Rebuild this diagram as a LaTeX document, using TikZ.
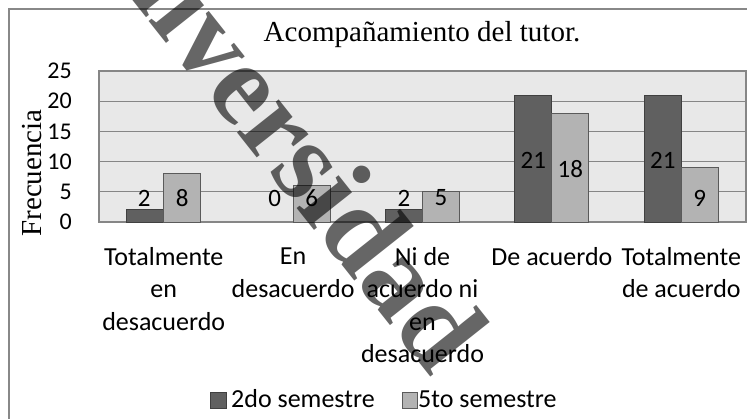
\documentclass[tikz,border=0pt]{standalone}
\usepackage{fontspec}
\setmainfont{Carlito}
\newfontfamily\timesf{Liberation Serif}
\definecolor{framegray}{HTML}{888888}
\definecolor{gridgray}{HTML}{868686}
\definecolor{plotfill}{HTML}{E8E8E8}
\definecolor{darkfill}{HTML}{606060}
\definecolor{darkedge}{HTML}{404040}
\definecolor{lightfill}{HTML}{B3B3B3}
\definecolor{lightedge}{HTML}{5A5A5A}
\tikzset{
  chartframe/.style={draw=framegray, line width=2pt},
  plotarea/.style={fill=plotfill, draw=gridgray, line width=1.3pt},
  gridline/.style={draw=gridgray, line width=1.3pt},
  darkbar/.style={fill=darkfill, draw=darkedge, line width=1pt},
  lightbar/.style={fill=lightfill, draw=lightedge, line width=1pt},
  datalabel/.style={inner sep=0pt, font=\fontsize{25}{30}\selectfont},
  ticklabel/.style={inner sep=0pt, anchor=east, font=\fontsize{24}{29}\selectfont},
  catlabel/.style={inner sep=0pt, anchor=north, align=center, font=\fontsize{26}{32.5}\selectfont},
  legendtext/.style={inner sep=0pt, anchor=base west, font=\fontsize{26}{31}\selectfont},
  titletext/.style={inner sep=0pt, font=\fontsize{29}{34}\selectfont\timesf},
  watermark/.style={inner sep=0pt, anchor=base west, rotate=-51.6, text=black, text opacity=0.6,
    font=\fontsize{116}{116}\selectfont\timesf\bfseries}
}
\begin{document}
\begin{tikzpicture}[x=1pt,y=-1pt]
\useasboundingbox (0,0) rectangle (747,418);
% chart frame (top and left edges visible)
\coordinate (frameBL) at (9,419);
\coordinate (frameTL) at (9,9);
\coordinate (frameTR) at (748,9);
\draw[chartframe] (frameBL) -- (frameTL) -- (frameTR);
% title
\node[titletext, anchor=base] (title) at (422,41) {Acompañamiento del tutor.};
% plot area
\draw[plotarea] (99,71) rectangle (746,222);
\foreach \v in {5,10,15,20}{
  \draw[gridline] (99,{222-6.04*\v}) -- (746,{222-6.04*\v});
}
% tick labels
\foreach \v in {0,5,10,15,20,25}{
  \node[ticklabel] (tick\v) at (72,{222-6.04*\v}) {\v};
}
% y axis title
\node[titletext, rotate=90] (ytitle) at (32,173) {Frecuencia};
% bars
\foreach \i/\a/\b in {0/2/8, 1/0/6, 2/2/5, 3/21/18, 4/21/9}{
  \pgfmathsetmacro{\c}{99+129.4*(\i+0.5)}
  \ifnum\a>0
    \draw[darkbar] ({\c-37},222) rectangle (\c,{222-6.04*\a});
  \fi
  \draw[lightbar] (\c,222) rectangle ({\c+37},{222-6.04*\b});
}
% data labels
\node[datalabel] (d1a) at (144.2,198) {2};
\node[datalabel] (d1b) at (182.2,198) {8};
\node[datalabel] (d2a) at (274.6,198) {0};
\node[datalabel] (d2b) at (311.6,198) {6};
\node[datalabel] (d3a) at (404.0,198) {2};
\node[datalabel] (d3b) at (441.0,198) {5};
\node[datalabel] (d4a) at (533.4,160) {21};
\node[datalabel] (d4b) at (570.4,169) {18};
\node[datalabel] (d5a) at (662.8,160) {21};
\node[datalabel] (d5b) at (699.8,198) {9};
% category labels
\node[catlabel] (cat1) at (163.7,247) {Totalmente\\en\\desacuerdo};
\node[catlabel] (cat2) at (293.1,248) {En\\desacuerdo};
\node[catlabel] (cat3) at (422.5,247) {Ni de\\acuerdo ni\\en\\desacuerdo};
\node[catlabel] (cat4) at (551.9,247) {De acuerdo};
\node[catlabel] (cat5) at (681.3,247) {Totalmente\\de acuerdo};
% legend
\draw[darkbar] (210,392) rectangle (226,408);
\node[legendtext] (leg1) at (231,407) {2do semestre};
\draw[lightbar] (402,392) rectangle (417.5,408);
\node[legendtext] (leg2) at (418,407) {5to semestre};
% watermark
\node[watermark] (wm) at (55,-97) {Universidad};
\end{tikzpicture}
\end{document}
